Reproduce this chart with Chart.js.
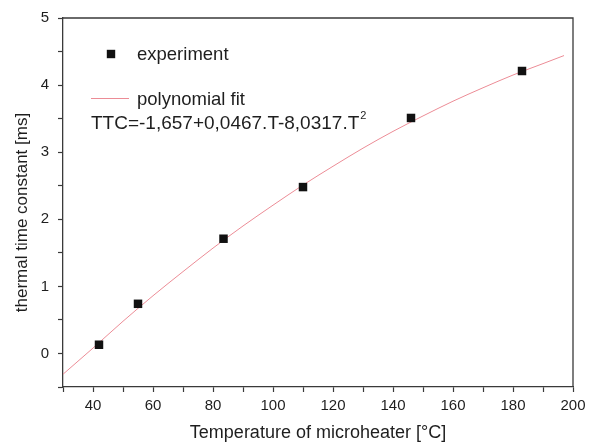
<!DOCTYPE html>
<html>
<head>
<meta charset="utf-8">
<script src="https://cdn.jsdelivr.net/npm/chart.js@4/dist/chart.umd.min.js"></script>
<style>
html,body{margin:0;padding:0;background:#fff;}
#wrap{width:601px;height:448px;}
</style>
</head>
<body>
<div id="wrap"><canvas id="c" width="601" height="448"></canvas></div>
<script>
// Experiment points
const expT = [42, 55, 83.5, 110, 146, 183];
const expTTC = [0.13, 0.74, 1.71, 2.48, 3.51, 4.21];
// Polynomial fit curve
const fitT = [30, 40, 50, 60, 70, 80, 90, 100, 110, 120, 130, 140, 150, 160, 170, 180, 190, 197];
const fitTTC = [-0.31, 0.08, 0.48, 0.86, 1.22, 1.57, 1.90, 2.21, 2.51, 2.79, 3.06, 3.31, 3.54, 3.76, 3.96, 4.15, 4.32, 4.44];
// Axis ticks
const xMajorTicks = [40, 60, 80, 100, 120, 140, 160, 180, 200];
const xAllTicks = [30, 40, 50, 60, 70, 80, 90, 100, 110, 120, 130, 140, 150, 160, 170, 180, 190, 200];
const yAllTicks = [-0.5, 0, 0.5, 1, 1.5, 2, 2.5, 3, 3.5, 4, 4.5, 5];
const yMajorTicks = [0, 1, 2, 3, 4, 5];
// Texts
const xTitle = 'Temperature of microheater [°C]';
const yTitle = 'thermal time constant [ms]';
const legendExp = 'experiment';
const legendFit = 'polynomial fit';
const equation = 'TTC=-1,657+0,0467.T-8,0317.T';
const equationSup = '2';

const FONT = '"Liberation Sans", Arial, sans-serif';
const AXIS = '#3a3a3a';
const TEXT = '#1e1e1e';
const FIT_COLOR = 'rgb(236,140,150)';

const framePlugin = {
  id: 'frame',
  afterDraw(chart) {
    const {ctx, chartArea: a} = chart;
    ctx.save();
    ctx.strokeStyle = AXIS;
    ctx.lineWidth = 1.3;
    ctx.beginPath();
    ctx.moveTo(a.left, a.top);
    ctx.lineTo(a.right, a.top);
    ctx.lineTo(a.right, a.bottom);
    ctx.stroke();
    // y axis title
    ctx.save();
    ctx.translate(22, (a.top + a.bottom) / 2 + 10);
    ctx.rotate(-Math.PI / 2);
    ctx.font = '17px ' + FONT;
    ctx.fillStyle = TEXT;
    ctx.textAlign = 'center';
    ctx.textBaseline = 'middle';
    ctx.fillText(yTitle, 0, 0);
    ctx.restore();
    // legend
    const L = a.left, T = a.top;
    ctx.fillStyle = '#111';
    ctx.fillRect(L + 48 - 4.2, T + 36 - 4.2, 8.4, 8.4);
    ctx.font = '18.5px ' + FONT;
    ctx.fillStyle = TEXT;
    ctx.textBaseline = 'middle';
    ctx.textAlign = 'left';
    ctx.fillText(legendExp, L + 74, T + 37);
    ctx.strokeStyle = FIT_COLOR;
    ctx.lineWidth = 1;
    ctx.beginPath();
    ctx.moveTo(L + 28, T + 80.5);
    ctx.lineTo(L + 66, T + 80.5);
    ctx.stroke();
    ctx.fillText(legendFit, L + 74, T + 82);
    ctx.font = '19px ' + FONT;
    ctx.fillText(equation, L + 28, T + 106);
    const w = ctx.measureText(equation).width;
    ctx.font = '11px ' + FONT;
    ctx.fillText(equationSup, L + 28 + w + 1, T + 98);
    ctx.restore();
  }
};

new Chart(document.getElementById('c'), {
  type: 'scatter',
  data: {
    datasets: [
      {
        label: legendFit,
        data: fitT.map((t, i) => ({x: t, y: fitTTC[i]})),
        showLine: true,
        borderColor: FIT_COLOR,
        borderWidth: 1,
        pointRadius: 0,
        cubicInterpolationMode: 'monotone',
        order: 2
      },
      {
        label: legendExp,
        data: expT.map((t, i) => ({x: t, y: expTTC[i]})),
        pointStyle: 'rect',
        pointRadius: 6,
        backgroundColor: '#111',
        borderColor: '#111',
        borderWidth: 0,
        order: 1
      }
    ]
  },
  options: {
    responsive: false,
    animation: false,
    layout: {padding: {top: 15, right: 28, left: 0, bottom: 0}},
    plugins: {legend: {display: false}, tooltip: {enabled: false}},
    scales: {
      x: {
        type: 'linear',
        min: 30, max: 200,
        afterFit(s) { s.height = 61; },
        afterBuildTicks(s) { s.ticks = xAllTicks.map(v => ({value: v})); },
        ticks: {
          autoSkip: false,
          maxRotation: 0,
          padding: 5,
          color: TEXT,
          font: {family: FONT, size: 15},
          callback: v => xMajorTicks.includes(v) ? String(v) : ''
        },
        grid: {
          drawOnChartArea: false,
          drawTicks: true,
          tickLength: 5,
          tickColor: AXIS,
          tickWidth: 1.2
        },
        border: {color: AXIS, width: 1.3},
        title: {
          display: true,
          text: xTitle,
          color: TEXT,
          font: {family: FONT, size: 18},
          padding: {top: 0, bottom: 4}
        }
      },
      y: {
        type: 'linear',
        min: -0.5, max: 5,
        afterFit(s) { s.width = 63; },
        afterBuildTicks(s) { s.ticks = yAllTicks.map(v => ({value: v})); },
        ticks: {
          autoSkip: false,
          padding: 9,
          color: TEXT,
          font: {family: FONT, size: 15},
          callback: v => yMajorTicks.includes(v) ? String(v) : ''
        },
        grid: {
          drawOnChartArea: false,
          drawTicks: true,
          tickLength: 5,
          tickColor: AXIS,
          tickWidth: 1.2
        },
        border: {color: AXIS, width: 1.3},
        title: {display: false}
      }
    }
  },
  plugins: [framePlugin]
});
</script>
</body>
</html>
